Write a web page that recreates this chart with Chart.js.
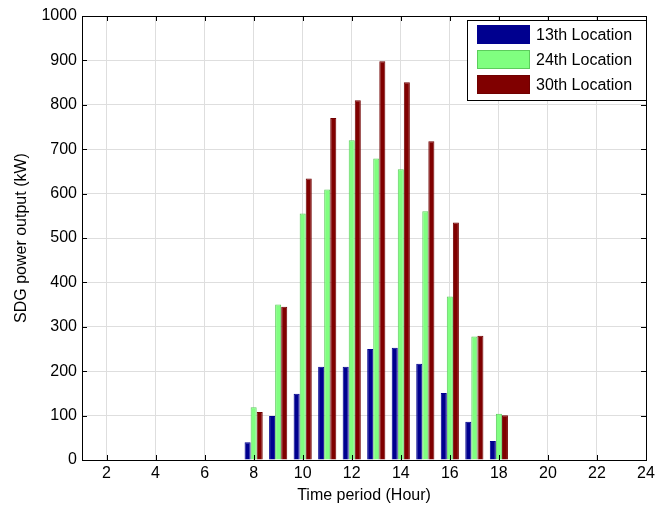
<!DOCTYPE html>
<html>
<head>
<meta charset="utf-8">
<script src="https://cdn.jsdelivr.net/npm/chart.js@4.4.1/dist/chart.umd.min.js"></script>
<style>
  html, body { margin: 0; padding: 0; background: #fff; }
  #wrap { width: 670px; height: 513px; position: relative; }
</style>
</head>
<body>
<div id="wrap"><canvas id="sdgChart"></canvas></div>
<script>
const hours = ['1','2','3','4','5','6','7','8','9','10','11','12','13','14','15','16','17','18','19','20','21','22','23','24'];
const loc13 = [0, 0, 0, 0, 0, 0, 0, 40, 99, 149, 210, 210, 250, 253, 217, 151, 86, 43, 0, 0, 0, 0, 0, 0];
const loc24 = [0, 0, 0, 0, 0, 0, 0, 119, 350, 555, 609, 720, 679, 655, 560, 368, 278, 104, 0, 0, 0, 0, 0, 0];
const loc30 = [0, 0, 0, 0, 0, 0, 0, 108, 345, 634, 770, 810, 898, 851, 718, 535, 280, 101, 0, 0, 0, 0, 0, 0];
const seriesNames = ['13th Location', '24th Location', '30th Location'];
const yTicks = [0, 100, 200, 300, 400, 500, 600, 700, 800, 900, 1000];

const FONT = "'Liberation Sans', Arial, sans-serif";
const fills = ['#00008f', '#80ff80', '#800000'];
const edges = ['#00008f', '#5ccc5c', '#700000'];

// MATLAB style box, inward ticks and legend inside the plot
const matlabAxes = {
  id: 'matlabAxes',
  afterDraw(chart) {
    const ctx = chart.ctx;
    const a = chart.chartArea;
    const xs = chart.scales.x, ys = chart.scales.y;
    ctx.save();
    ctx.strokeStyle = '#000';
    ctx.lineWidth = 1;
    ctx.beginPath();
    yTicks.forEach(v => {
      const y = Math.round(ys.getPixelForValue(v)) + 0.5;
      ctx.moveTo(a.left, y); ctx.lineTo(a.left + 5, y);
      ctx.moveTo(a.right, y); ctx.lineTo(a.right - 5, y);
    });
    hours.forEach((h, i) => {
      if (Number(h) % 2 !== 0) return;
      const x = Math.round(xs.getPixelForValue(i)) + 0.5;
      ctx.moveTo(x, a.bottom); ctx.lineTo(x, a.bottom - 5);
      ctx.moveTo(x, a.top); ctx.lineTo(x, a.top + 5);
    });
    ctx.stroke();
    ctx.strokeRect(Math.round(a.left) + 0.5, Math.round(a.top) + 0.5,
                   Math.round(a.right - a.left), Math.round(a.bottom - a.top));

    // legend
    const lx = 467, ly = 20, lw = 179, lh = 80;
    ctx.fillStyle = '#fff';
    ctx.fillRect(lx, ly, lw, lh);
    ctx.strokeRect(lx + 0.5, ly + 0.5, lw, lh);
    ctx.font = '16px ' + FONT;
    ctx.textBaseline = 'middle';
    seriesNames.forEach((name, i) => {
      const ry = ly + 5 + i * 25;
      ctx.fillStyle = fills[i];
      ctx.fillRect(477, ry, 53, 19);
      ctx.strokeStyle = edges[i];
      ctx.strokeRect(477.5, ry + 0.5, 52, 18);
      ctx.fillStyle = '#000';
      ctx.fillText(name, 536, ry + 10.5);
    });
    ctx.restore();
  }
};

const ctx = document.getElementById('sdgChart').getContext('2d');
new Chart(ctx, {
  type: 'bar',
  data: {
    labels: hours,
    datasets: [loc13, loc24, loc30].map((d, i) => ({
      label: seriesNames[i],
      data: d,
      backgroundColor: fills[i],
      borderColor: edges[i],
      borderWidth: 1,
      categoryPercentage: 0.74,
      barPercentage: 1
    }))
  },
  options: {
    responsive: true,
    maintainAspectRatio: false,
    animation: false,
    layout: { padding: { left: 0, right: 24, top: 16, bottom: 0 } },
    plugins: {
      legend: { display: false },
      tooltip: { enabled: false }
    },
    scales: {
      x: {
        offset: false,
        grid: {
          offset: false,
          drawTicks: false,
          color: c => (c.index + 1) % 2 === 0 ? '#dedede' : 'rgba(0,0,0,0)'
        },
        border: { display: false },
        ticks: {
          autoSkip: false,
          maxRotation: 0,
          padding: 4,
          color: '#000',
          font: { family: FONT, size: 16 },
          callback: function (val, i) {
            return (i + 1) % 2 === 0 ? hours[i] : '';
          }
        },
        title: {
          display: true,
          text: 'Time period (Hour)',
          color: '#000',
          font: { family: FONT, size: 16 },
          padding: { top: 0, bottom: 8 }
        },
        afterFit: s => { s.height = 53; }
      },
      y: {
        min: 0,
        max: 1000,
        grid: { drawTicks: false, color: '#dedede' },
        border: { display: false },
        ticks: {
          stepSize: 100,
          padding: 5,
          color: '#000',
          font: { family: FONT, size: 16 },
          callback: v => String(v)
        },
        title: {
          display: true,
          text: 'SDG power output (kW)',
          color: '#000',
          font: { family: FONT, size: 16 },
          padding: { top: 12, bottom: 0 }
        },
        afterFit: s => { s.width = 82; }
      }
    }
  },
  plugins: [matlabAxes]
});
</script>
</body>
</html>
